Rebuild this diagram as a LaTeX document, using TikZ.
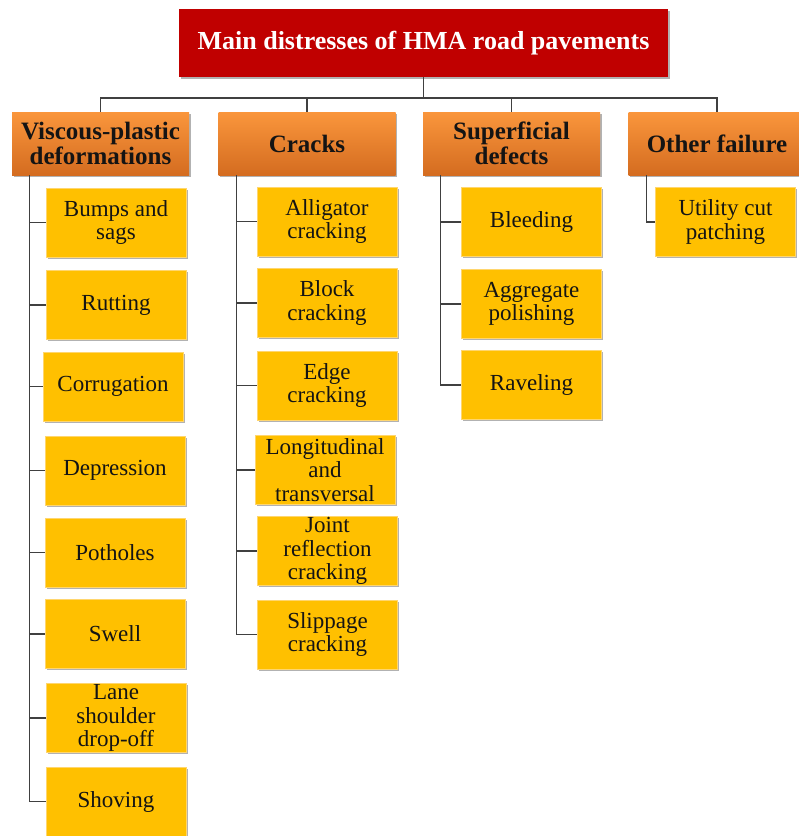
\documentclass[tikz,border=0pt]{standalone}
\usepackage{fontspec}
\setmainfont{Liberation Serif}
\usetikzlibrary{shadows}
\definecolor{titlered}{RGB}{192,0,0}
\definecolor{hdrtop}{RGB}{250,150,60}
\definecolor{hdrbot}{RGB}{212,108,32}
\definecolor{leafyel}{RGB}{255,192,0}
\definecolor{leafedge}{RGB}{255,214,110}
\definecolor{linedark}{RGB}{64,64,64}
\definecolor{inkdark}{RGB}{20,20,20}
\begin{document}
\begin{tikzpicture}[x=1pt,y=-1pt,
  boxshadow/.style={drop shadow={shadow xshift=1.5pt,shadow yshift=-1.5pt,opacity=0.3,fill=black}},
  titlebox/.style={rectangle,fill=titlered,draw=none,text=white,inner sep=0pt,
    minimum width=489pt,minimum height=68pt,
    font=\fontsize{26}{30}\selectfont\bfseries,boxshadow},
  hdrbox/.style={rectangle,top color=hdrtop,bottom color=hdrbot,draw=none,text=inkdark,
    inner sep=0pt,minimum width=177pt,minimum height=63pt,align=center,
    font=\fontsize{25}{25.5}\selectfont\bfseries,boxshadow},
  leafbox/.style={rectangle,fill=leafyel,draw=leafedge,line width=0.6pt,text=inkdark,
    inner sep=0pt,minimum width=140pt,minimum height=69pt,align=center,
    font=\fontsize{23}{23.5}\selectfont,boxshadow},
  conn/.style={draw=linedark,line width=1.4pt},
  branch/.style={draw=linedark,line width=1.2pt}
]
\useasboundingbox (0,0) rectangle (799,836);

% root
\node[titlebox] (top) at (423.5,43) {Main distresses of HMA road pavements};

% category headers
\node[hdrbox] (h1) at (100.5,143.5) {Viscous-plastic\\deformations};
\node[hdrbox] (h2) at (307,143.5) {Cracks};
\node[hdrbox] (h3) at (511.5,143.5) {Superficial\\defects};
\node[hdrbox] (h4) at (717,143.5) {Other failure};

% viscous-plastic deformations
\node[leafbox] (a1) at (116,222.5) {Bumps and\\sags};
\node[leafbox] (a2) at (116,305) {Rutting};
\node[leafbox] (a3) at (113,386.5) {Corrugation};
\node[leafbox] (a4) at (115,470.5) {Depression};
\node[leafbox] (a5) at (115,552.5) {Potholes};
\node[leafbox] (a6) at (115,634) {Swell};
\node[leafbox] (a7) at (116,718) {Lane\\shoulder\\drop-off};
\node[leafbox] (a8) at (116,801.5) {Shoving};

% cracks
\node[leafbox] (b1) at (327,221.5) {Alligator\\cracking};
\node[leafbox] (b2) at (327,303) {Block\\cracking};
\node[leafbox] (b3) at (327,385.5) {Edge\\cracking};
\node[leafbox] (b4) at (325,470) {Longitudinal\\and\\transversal};
\node[leafbox] (b5) at (327.5,551) {Joint\\reflection\\cracking};
\node[leafbox] (b6) at (327.5,634.5) {Slippage\\cracking};

% superficial defects
\node[leafbox] (c1) at (531.5,222) {Bleeding};
\node[leafbox] (c2) at (531.5,304) {Aggregate\\polishing};
\node[leafbox] (c3) at (531.5,385) {Raveling};

% other failure
\node[leafbox] (d1) at (725.5,222) {Utility cut\\patching};

% root to headers
\coordinate (bus) at (0,98);
\draw[conn] (top.south) -- (top.south |- bus);
\draw[conn] (h1.north) -- (h1.north |- bus) -| (h4.north);
\draw[conn] (h2.north) -- (h2.north |- bus);
\draw[conn] (h3.north) -- (h3.north |- bus);

% headers to items
\foreach \leaf in {a1,a2,a3,a4,a5,a6,a7,a8}
  \draw[branch] ([xshift=18pt]h1.south west) |- (\leaf.west);
\foreach \leaf in {b1,b2,b3,b4,b5,b6}
  \draw[branch] ([xshift=18pt]h2.south west) |- (\leaf.west);
\foreach \leaf in {c1,c2,c3}
  \draw[branch] ([xshift=18pt]h3.south west) |- (\leaf.west);
\draw[branch] ([xshift=18pt]h4.south west) |- (d1.west);
\end{tikzpicture}
\end{document}
